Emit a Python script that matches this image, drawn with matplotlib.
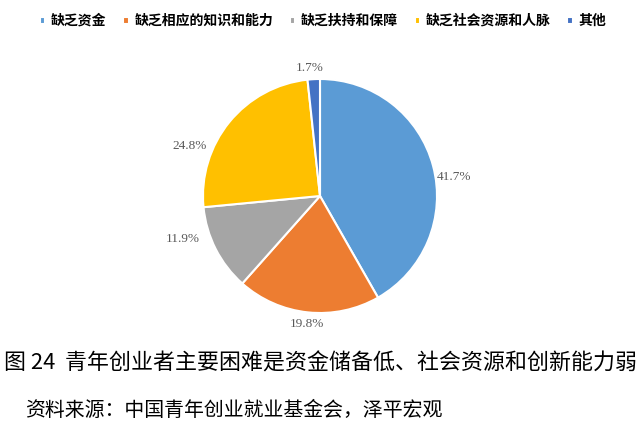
import matplotlib

matplotlib.use("Agg")
import matplotlib.pyplot as plt
import numpy as np

plt.rcParams["font.family"] = ["Noto Sans CJK SC", "DejaVu Sans"]

# data
categories = ["缺乏资金", "缺乏相应的知识和能力", "缺乏扶持和保障", "缺乏社会资源和人脉", "其他"]
shares = [41.7, 19.8, 11.9, 24.8, 1.7]
colors = ["#5B9BD5", "#ED7D31", "#A5A5A5", "#FFC000", "#4472C4"]

caption = "图 24  青年创业者主要困难是资金储备低、社会资源和创新能力弱"
source = "资料来源：中国青年创业就业基金会，泽平宏观"

# label placement (best-fit look): angle nudge in degrees, radial distance
label_nudge = [-7, 0, -9.4, 18.4, 1.4]
label_dist = [1.16, 1.10, 1.23, 1.195, 1.10]

fig = plt.figure(figsize=(6.4, 4.25), dpi=100)

# pie: centre ~(320, 196) px, radius ~117 px
r_px = 117
ax = fig.add_axes([(320 - r_px) / 640, (425 - 196 - r_px) / 425, 2 * r_px / 640, 2 * r_px / 425])
wedges, texts, autotexts = ax.pie(
    shares,
    colors=colors,
    startangle=90,
    counterclock=False,
    autopct="%.1f%%",
    wedgeprops=dict(edgecolor="white", linewidth=1.5),
)
for w, t, nudge, dist in zip(wedges, autotexts, label_nudge, label_dist):
    ang = np.deg2rad((w.theta1 + w.theta2) / 2 + nudge)
    t.set_position((dist * np.cos(ang), dist * np.sin(ang)))
    t.set_fontfamily("Liberation Serif")
    t.set_fontsize(9.5)
    t.set_color("#595959")
ax.set_xlim(-1, 1)
ax.set_ylim(-1, 1)
ax.set_aspect("equal")

fig.legend(
    wedges,
    categories,
    loc="center",
    bbox_to_anchor=(323 / 640, 1 - 21 / 425),
    ncol=5,
    frameon=False,
    prop=dict(weight="bold", size=10),
    handlelength=0.4,
    handleheight=0.4,
    handletextpad=0.4,
    columnspacing=1.2,
)

fig.text(4 / 640, 1 - 364 / 425, caption, fontsize=15.8, va="center", ha="left")
fig.text(25 / 640, 1 - 410 / 425, source, fontsize=14.3, va="center", ha="left")

fig.savefig("out.png", dpi=100)
